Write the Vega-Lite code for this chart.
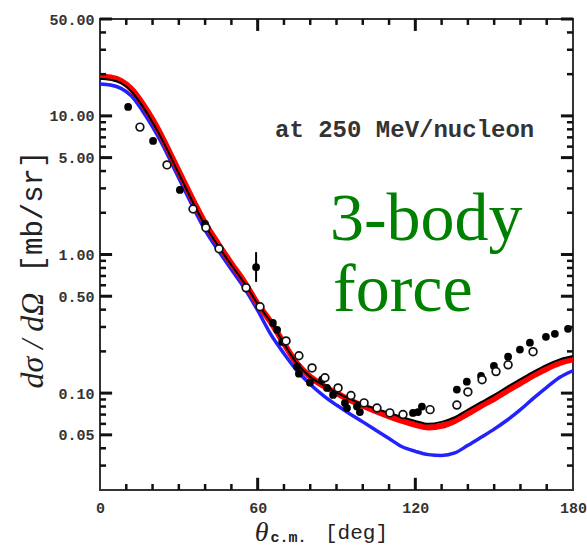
{
  "$schema": "https://vega.github.io/schema/vega-lite/v6.json",
  "width": 473,
  "height": 471,
  "autosize": {"type": "none"},
  "padding": {"left": 100, "top": 19, "right": 14, "bottom": 55},
  "background": "white",
  "config": {
    "view": {"stroke": "#333", "strokeWidth": 2},
    "axis": {"domain": false, "grid": false, "ticks": false, "labelFont": "Liberation Mono", "labelFontWeight": "bold", "labelFontSize": 15, "labelColor": "#333", "titleColor": "#222", "titleFontWeight": "normal"}
  },
  "resolve": {"axis": {"x": "independent", "y": "independent"}},
  "datasets": {
    "blue": [
      {"theta": 0, "value": 17.0}, {"theta": 4, "value": 16.7}, {"theta": 8, "value": 15.8}, {"theta": 12, "value": 13.9}, {"theta": 16, "value": 11.0}, {"theta": 20, "value": 8.35}, {"theta": 24, "value": 6.1}, {"theta": 28, "value": 4.25}, {"theta": 32, "value": 2.97}, {"theta": 36, "value": 2.09}, {"theta": 40, "value": 1.5}, {"theta": 45, "value": 1.07}, {"theta": 50, "value": 0.78}, {"theta": 55, "value": 0.57}, {"theta": 60, "value": 0.395}, {"theta": 65, "value": 0.265}, {"theta": 70, "value": 0.193}, {"theta": 75, "value": 0.145}, {"theta": 80, "value": 0.116}, {"theta": 85, "value": 0.096}, {"theta": 90, "value": 0.082}, {"theta": 95, "value": 0.071}, {"theta": 100, "value": 0.062}, {"theta": 105, "value": 0.054}, {"theta": 110, "value": 0.047}, {"theta": 115, "value": 0.041}, {"theta": 120, "value": 0.038}, {"theta": 125, "value": 0.036}, {"theta": 130, "value": 0.0355}, {"theta": 135, "value": 0.037}, {"theta": 140, "value": 0.042}, {"theta": 145, "value": 0.048}, {"theta": 150, "value": 0.055}, {"theta": 155, "value": 0.064}, {"theta": 160, "value": 0.076}, {"theta": 165, "value": 0.092}, {"theta": 170, "value": 0.11}, {"theta": 175, "value": 0.13}, {"theta": 180, "value": 0.145}
    ],
    "red": [
      {"theta": 0, "value": 19.2}, {"theta": 4, "value": 18.9}, {"theta": 8, "value": 17.9}, {"theta": 12, "value": 15.6}, {"theta": 16, "value": 12.4}, {"theta": 20, "value": 9.4}, {"theta": 24, "value": 6.8}, {"theta": 28, "value": 4.76}, {"theta": 32, "value": 3.33}, {"theta": 36, "value": 2.34}, {"theta": 40, "value": 1.68}, {"theta": 45, "value": 1.19}, {"theta": 50, "value": 0.86}, {"theta": 55, "value": 0.63}, {"theta": 60, "value": 0.44}, {"theta": 65, "value": 0.325}, {"theta": 70, "value": 0.228}, {"theta": 75, "value": 0.163}, {"theta": 80, "value": 0.131}, {"theta": 85, "value": 0.113}, {"theta": 90, "value": 0.1}, {"theta": 95, "value": 0.089}, {"theta": 100, "value": 0.081}, {"theta": 105, "value": 0.074}, {"theta": 110, "value": 0.068}, {"theta": 115, "value": 0.063}, {"theta": 120, "value": 0.059}, {"theta": 125, "value": 0.0565}, {"theta": 130, "value": 0.058}, {"theta": 135, "value": 0.063}, {"theta": 140, "value": 0.071}, {"theta": 145, "value": 0.081}, {"theta": 150, "value": 0.091}, {"theta": 155, "value": 0.104}, {"theta": 160, "value": 0.118}, {"theta": 165, "value": 0.134}, {"theta": 170, "value": 0.15}, {"theta": 175, "value": 0.165}, {"theta": 180, "value": 0.175}
    ],
    "black": [
      {"theta": 0, "value": 18.5}, {"theta": 4, "value": 18.2}, {"theta": 8, "value": 17.2}, {"theta": 12, "value": 15.0}, {"theta": 16, "value": 11.9}, {"theta": 20, "value": 9.0}, {"theta": 24, "value": 6.55}, {"theta": 28, "value": 4.58}, {"theta": 32, "value": 3.2}, {"theta": 36, "value": 2.25}, {"theta": 40, "value": 1.62}, {"theta": 45, "value": 1.15}, {"theta": 50, "value": 0.84}, {"theta": 55, "value": 0.62}, {"theta": 60, "value": 0.44}, {"theta": 65, "value": 0.325}, {"theta": 70, "value": 0.228}, {"theta": 75, "value": 0.163}, {"theta": 80, "value": 0.131}, {"theta": 85, "value": 0.114}, {"theta": 90, "value": 0.101}, {"theta": 95, "value": 0.091}, {"theta": 100, "value": 0.083}, {"theta": 105, "value": 0.077}, {"theta": 110, "value": 0.072}, {"theta": 115, "value": 0.067}, {"theta": 120, "value": 0.063}, {"theta": 125, "value": 0.06}, {"theta": 130, "value": 0.062}, {"theta": 135, "value": 0.067}, {"theta": 140, "value": 0.076}, {"theta": 145, "value": 0.086}, {"theta": 150, "value": 0.097}, {"theta": 155, "value": 0.111}, {"theta": 160, "value": 0.126}, {"theta": 165, "value": 0.143}, {"theta": 170, "value": 0.16}, {"theta": 175, "value": 0.175}, {"theta": 180, "value": 0.185}
    ],
    "filled": [
      {"theta": 10.7, "value": 11.6}, {"theta": 20.2, "value": 6.6}, {"theta": 30.4, "value": 2.92}, {"theta": 40.0, "value": 1.66}, {"theta": 59.4, "value": 0.81}, {"theta": 65.8, "value": 0.321}, {"theta": 67.4, "value": 0.286}, {"theta": 69.3, "value": 0.234}, {"theta": 75.0, "value": 0.155}, {"theta": 75.7, "value": 0.138}, {"theta": 79.9, "value": 0.119}, {"theta": 84.5, "value": 0.125}, {"theta": 86.4, "value": 0.109}, {"theta": 88.7, "value": 0.097}, {"theta": 93.2, "value": 0.085}, {"theta": 94.0, "value": 0.078}, {"theta": 97.8, "value": 0.08}, {"theta": 98.9, "value": 0.073}, {"theta": 105.4, "value": 0.078}, {"theta": 119.1, "value": 0.072}, {"theta": 121.0, "value": 0.073}, {"theta": 122.5, "value": 0.08}, {"theta": 135.8, "value": 0.106}, {"theta": 139.6, "value": 0.121}, {"theta": 145.0, "value": 0.133}, {"theta": 149.9, "value": 0.157}, {"theta": 155.3, "value": 0.183}, {"theta": 159.8, "value": 0.206}, {"theta": 163.6, "value": 0.231}, {"theta": 169.7, "value": 0.255}, {"theta": 173.1, "value": 0.268}, {"theta": 178.1, "value": 0.291}
    ],
    "open": [
      {"theta": 15.2, "value": 8.3}, {"theta": 25.5, "value": 4.43}, {"theta": 35.4, "value": 2.13}, {"theta": 40.3, "value": 1.56}, {"theta": 45.3, "value": 1.1}, {"theta": 55.6, "value": 0.575}, {"theta": 60.9, "value": 0.42}, {"theta": 70.8, "value": 0.238}, {"theta": 75.7, "value": 0.186}, {"theta": 80.7, "value": 0.152}, {"theta": 85.6, "value": 0.129}, {"theta": 90.6, "value": 0.109}, {"theta": 95.5, "value": 0.096}, {"theta": 100.5, "value": 0.085}, {"theta": 105.4, "value": 0.078}, {"theta": 110.3, "value": 0.072}, {"theta": 115.3, "value": 0.07}, {"theta": 125.6, "value": 0.076}, {"theta": 135.8, "value": 0.082}, {"theta": 140.0, "value": 0.102}, {"theta": 145.4, "value": 0.125}, {"theta": 150.7, "value": 0.143}, {"theta": 155.3, "value": 0.16}, {"theta": 164.8, "value": 0.199}
    ],
    "errbar": [{"theta": 59.4, "lo": 0.635, "hi": 1.04}],
    "note": [{"theta": 66.6, "value": 7.05, "label": "at 250 MeV/nucleon"}],
    "green": [{"theta": 87.5, "value": 1.276, "label": "3-body"}, {"theta": 88.7, "value": 0.393, "label": "force"}],
    "ymajor": [{"value": 0.05}, {"value": 0.1}, {"value": 0.5}, {"value": 1}, {"value": 5}, {"value": 10}, {"value": 50}],
    "yminor": [{"value": 0.03}, {"value": 0.04}, {"value": 0.06}, {"value": 0.07}, {"value": 0.08}, {"value": 0.09}, {"value": 0.2}, {"value": 0.3}, {"value": 0.4}, {"value": 0.6}, {"value": 0.7}, {"value": 0.8}, {"value": 0.9}, {"value": 2}, {"value": 3}, {"value": 4}, {"value": 6}, {"value": 7}, {"value": 8}, {"value": 9}, {"value": 20}, {"value": 30}, {"value": 40}],
    "xmajor": [{"theta": 60}, {"theta": 120}],
    "xminor": [{"theta": 10}, {"theta": 20}, {"theta": 30}, {"theta": 40}, {"theta": 50}, {"theta": 70}, {"theta": 80}, {"theta": 90}, {"theta": 100}, {"theta": 110}, {"theta": 130}, {"theta": 140}, {"theta": 150}, {"theta": 160}, {"theta": 170}]
  },
  "layer": [
    {
      "data": {"name": "blue"},
      "mark": {"type": "line", "color": "#2222ff", "strokeWidth": 3.5, "interpolate": "monotone"},
      "encoding": {
        "x": {"field": "theta", "type": "quantitative", "scale": {"domain": [0, 180], "nice": false, "zero": false},
          "axis": {"orient": "bottom", "values": [0, 60, 120, 180], "labelPadding": 10, "labelFlush": false,
            "title": "θ", "titleFont": "Liberation Serif", "titleFontStyle": "italic", "titleFontSize": 28, "titleX": 161, "titleY": 50, "titleAlign": "center", "titleBaseline": "alphabetic", "titleAngle": 0}},
        "y": {"field": "value", "type": "quantitative", "scale": {"type": "log", "domain": [0.02, 50], "nice": false},
          "axis": {"orient": "left", "values": [0.05, 0.1, 0.5, 1, 5, 10, 50], "format": ".2f", "labelPadding": 6, "labelFlush": false,
            "title": "dσ / dΩ", "titleFont": "Liberation Serif", "titleFontStyle": "italic", "titleFontSize": 32, "titleX": -68, "titleY": 321, "titleAlign": "center", "titleBaseline": "middle", "titleAngle": -90}}
      }
    },
    {
      "data": {"name": "red"},
      "mark": {"type": "line", "color": "#ff0000", "strokeWidth": 6, "interpolate": "monotone"},
      "encoding": {
        "x": {"field": "theta", "type": "quantitative",
          "axis": {"orient": "bottom", "values": [60, 120], "labels": false,
            "title": "c.m.", "titleFont": "Liberation Mono", "titleFontSize": 15, "titleFontWeight": "bold", "titleX": 188, "titleY": 51, "titleAlign": "center", "titleBaseline": "alphabetic", "titleAngle": 0}},
        "y": {"field": "value", "type": "quantitative",
          "axis": {"orient": "left", "values": [0.05, 0.1, 0.5, 1, 5, 10, 50], "labels": false,
            "title": "[mb/sr]", "titleFont": "Liberation Mono", "titleFontSize": 29, "titleX": -68, "titleY": 192, "titleAlign": "center", "titleBaseline": "middle", "titleAngle": -90}}
      }
    },
    {
      "data": {"name": "black"},
      "mark": {"type": "line", "color": "#000000", "strokeWidth": 2, "interpolate": "monotone"},
      "encoding": {
        "x": {"field": "theta", "type": "quantitative",
          "axis": {"orient": "bottom", "values": [90], "labels": false,
            "title": "[deg]", "titleFont": "Liberation Mono", "titleFontSize": 21, "titleX": 256, "titleY": 48, "titleAlign": "center", "titleBaseline": "alphabetic", "titleAngle": 0}},
        "y": {"field": "value", "type": "quantitative", "axis": null}
      }
    },
    {
      "data": {"name": "filled"},
      "mark": {"type": "point", "shape": "circle", "filled": true, "color": "#000000", "size": 60, "opacity": 1},
      "encoding": {
        "x": {"field": "theta", "type": "quantitative", "axis": null},
        "y": {"field": "value", "type": "quantitative", "axis": null}
      }
    },
    {
      "data": {"name": "open"},
      "mark": {"type": "point", "shape": "circle", "filled": false, "fill": "white", "fillOpacity": 1, "stroke": "#111111", "strokeWidth": 1.7, "size": 60, "opacity": 1},
      "encoding": {
        "x": {"field": "theta", "type": "quantitative", "axis": null},
        "y": {"field": "value", "type": "quantitative", "axis": null}
      }
    },
    {
      "data": {"name": "errbar"},
      "mark": {"type": "rule", "color": "#000000", "strokeWidth": 2},
      "encoding": {
        "x": {"field": "theta", "type": "quantitative", "axis": null},
        "y": {"field": "lo", "type": "quantitative", "axis": null},
        "y2": {"field": "hi"}
      }
    },
    {
      "data": {"name": "ymajor"},
      "mark": {"type": "rule", "color": "#111111", "strokeWidth": 3},
      "encoding": {"x": {"datum": 0, "type": "quantitative", "axis": null}, "x2": {"datum": 4.6}, "y": {"field": "value", "type": "quantitative", "axis": null}}
    },
    {
      "data": {"name": "ymajor"},
      "mark": {"type": "rule", "color": "#111111", "strokeWidth": 3},
      "encoding": {"x": {"datum": 175.4, "type": "quantitative", "axis": null}, "x2": {"datum": 180}, "y": {"field": "value", "type": "quantitative", "axis": null}}
    },
    {
      "data": {"name": "yminor"},
      "mark": {"type": "rule", "color": "#111111", "strokeWidth": 2.5},
      "encoding": {"x": {"datum": 0, "type": "quantitative", "axis": null}, "x2": {"datum": 2.3}, "y": {"field": "value", "type": "quantitative", "axis": null}}
    },
    {
      "data": {"name": "yminor"},
      "mark": {"type": "rule", "color": "#111111", "strokeWidth": 2.5},
      "encoding": {"x": {"datum": 177.7, "type": "quantitative", "axis": null}, "x2": {"datum": 180}, "y": {"field": "value", "type": "quantitative", "axis": null}}
    },
    {
      "data": {"name": "xmajor"},
      "mark": {"type": "rule", "color": "#111111", "strokeWidth": 3},
      "encoding": {"x": {"field": "theta", "type": "quantitative", "axis": null}, "y": {"datum": 0.02, "type": "quantitative", "axis": null}, "y2": {"datum": 0.0245}}
    },
    {
      "data": {"name": "xmajor"},
      "mark": {"type": "rule", "color": "#111111", "strokeWidth": 3},
      "encoding": {"x": {"field": "theta", "type": "quantitative", "axis": null}, "y": {"datum": 41, "type": "quantitative", "axis": null}, "y2": {"datum": 50}}
    },
    {
      "data": {"name": "xminor"},
      "mark": {"type": "rule", "color": "#111111", "strokeWidth": 2.5},
      "encoding": {"x": {"field": "theta", "type": "quantitative", "axis": null}, "y": {"datum": 0.02, "type": "quantitative", "axis": null}, "y2": {"datum": 0.0221}}
    },
    {
      "data": {"name": "xminor"},
      "mark": {"type": "rule", "color": "#111111", "strokeWidth": 2.5},
      "encoding": {"x": {"field": "theta", "type": "quantitative", "axis": null}, "y": {"datum": 45.3, "type": "quantitative", "axis": null}, "y2": {"datum": 50}}
    },
    {
      "data": {"name": "note"},
      "mark": {"type": "text", "font": "Liberation Mono", "fontSize": 24, "fontWeight": "bold", "color": "#333333", "align": "left", "baseline": "alphabetic"},
      "encoding": {
        "x": {"field": "theta", "type": "quantitative", "axis": null},
        "y": {"field": "value", "type": "quantitative", "axis": null},
        "text": {"field": "label"}
      }
    },
    {
      "data": {"name": "green"},
      "mark": {"type": "text", "font": "Liberation Serif", "fontSize": 68, "color": "#008000", "align": "left", "baseline": "alphabetic"},
      "encoding": {
        "x": {"field": "theta", "type": "quantitative", "axis": null},
        "y": {"field": "value", "type": "quantitative", "axis": null},
        "text": {"field": "label"}
      }
    }
  ]
}
